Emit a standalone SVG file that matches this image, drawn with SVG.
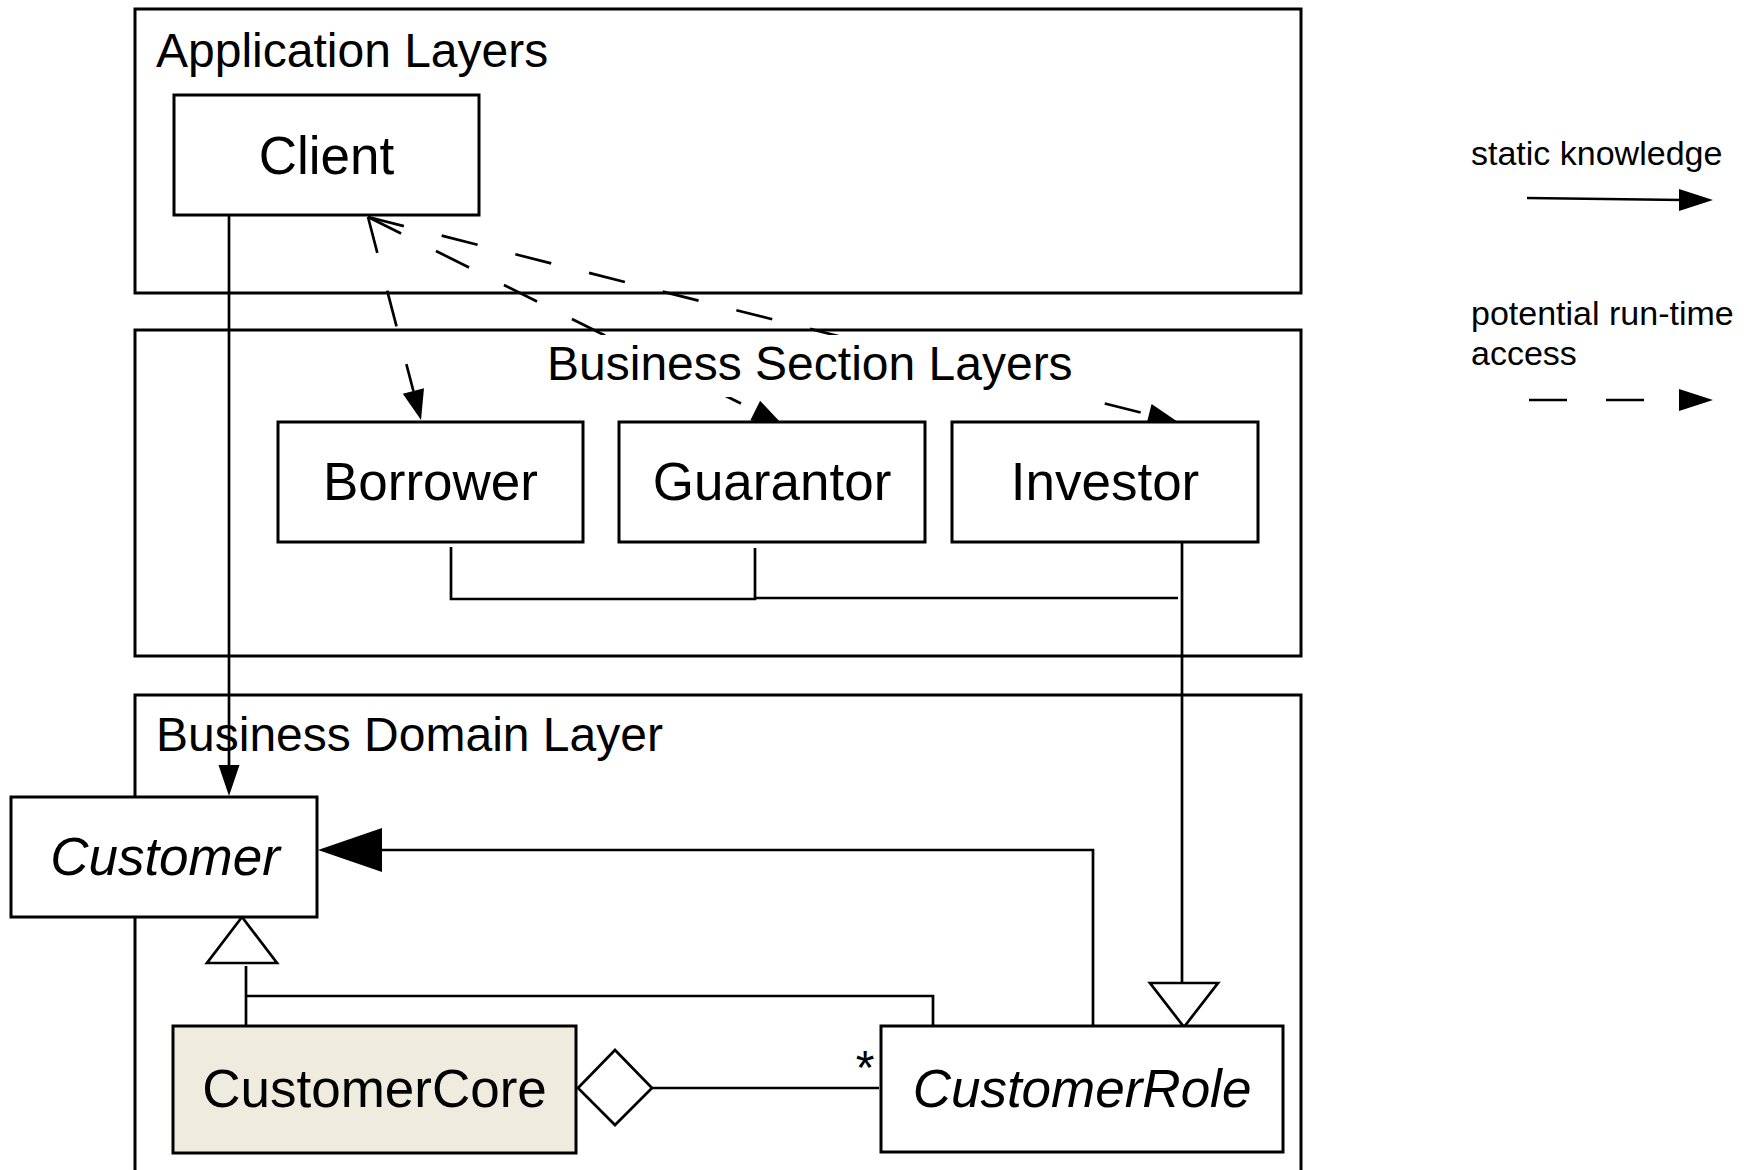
<svg xmlns="http://www.w3.org/2000/svg" width="1757" height="1170" viewBox="0 0 1757 1170">
<style>
.cont{fill:none;stroke:#000;stroke-width:3}
.box{fill:#fff;stroke:#000;stroke-width:3}
.core{fill:#efecdf;stroke:#000;stroke-width:3}
.ln{fill:none;stroke:#000;stroke-width:2.7}
.dash{fill:none;stroke:#000;stroke-width:2.7;stroke-dasharray:37 39}
.head{fill:#000;stroke:none}
.hollow{fill:#fff;stroke:#000;stroke-width:2.7}
.title{font-family:"Liberation Sans",Arial,sans-serif;font-size:48px;fill:#000}
.lbl{font-family:"Liberation Sans",Arial,sans-serif;font-size:53px;fill:#000;text-anchor:middle}
.it{font-style:italic}
.leg{font-family:"Liberation Sans",Arial,sans-serif;font-size:34px;fill:#000}
</style>
<rect width="1757" height="1170" fill="#fff"/>
<g id="containers">
<g id="application-layers">
<rect class="cont" x="135" y="9" width="1166" height="284"/>
<text class="title" x="156" y="67">Application Layers</text>
</g>
<rect id="business-section-layers" class="cont" x="135" y="330" width="1166" height="326"/>
<g id="business-domain-layer">
<rect class="cont" x="135" y="695" width="1166" height="520"/>
<text class="title" x="156" y="751">Business Domain Layer</text>
</g>
</g>
<g id="connectors">
<path class="ln" d="M229,215 V766"/>
<polygon class="head" points="229,796 218.5,765 239.5,765"/>
<path class="dash" d="M368,217 L413.4,391"/>
<polygon class="head" points="421,420 424,388.2 402.8,393.8"/>
<path class="dash" d="M368,217 L755.2,410.6"/>
<polygon class="head" points="782,424 760.1,400.8 750.3,420.4"/>
<path class="dash" d="M368,217 L1148.9,414.6"/>
<polygon class="head" points="1178,422 1151.6,403.9 1146.2,425.3"/>
<path class="ln" d="M451,547 V599 H755 V548"/>
<path class="ln" d="M755,598 H1178"/>
<path class="ln" d="M1182,542 V985"/>
<polygon class="hollow" points="1150,983 1218,983 1184,1027"/>
<path class="ln" d="M1093,1026 V850 H380"/>
<polygon class="head" points="318,850 382,828 382,872"/>
<polygon class="hollow" points="242,917 207,963 277,963"/>
<path class="ln" d="M246,966 V1031"/>
<path class="ln" d="M246,996 H933 V1026"/>
<polygon class="hollow" points="578,1088 615,1050 652,1088 615,1125"/>
<path class="ln" d="M652,1088 H879"/>
<text x="865" y="1084" style="font-family:'Liberation Sans',Arial,sans-serif;font-size:48px;text-anchor:middle">*</text>
</g>
<g id="section-title">
<rect x="545" y="335" width="528" height="62" fill="#fff"/>
<text class="title" x="547" y="380">Business Section Layers</text>
</g>
<g id="client">
<rect class="box" x="174" y="95" width="305" height="120"/>
<text class="lbl" x="326.5" y="173.5">Client</text>
</g>
<g id="borrower">
<rect class="box" x="278" y="422" width="305" height="120"/>
<text class="lbl" x="430.5" y="500">Borrower</text>
</g>
<g id="guarantor">
<rect class="box" x="619" y="422" width="306" height="120"/>
<text class="lbl" x="772" y="500">Guarantor</text>
</g>
<g id="investor">
<rect class="box" x="952" y="422" width="306" height="120"/>
<text class="lbl" x="1105" y="500">Investor</text>
</g>
<g id="customer">
<rect class="box" x="11" y="797" width="306" height="120"/>
<text class="lbl it" x="165" y="875">Customer</text>
</g>
<g id="customer-core">
<rect class="core" x="173" y="1026" width="403" height="127"/>
<text class="lbl" x="374.5" y="1107">CustomerCore</text>
</g>
<g id="customer-role">
<rect class="box" x="881" y="1026" width="402" height="126"/>
<text class="lbl it" x="1082" y="1107">CustomerRole</text>
</g>
<g id="legend">
<text class="leg" x="1471" y="165">static knowledge</text>
<path class="ln" d="M1527,198 L1682,200"/>
<polygon class="head" points="1713,200 1679,189 1679,211"/>
<text class="leg" x="1471" y="325">potential run-time</text>
<text class="leg" x="1471" y="365">access</text>
<path class="ln" d="M1529,400 H1567 M1606,400 H1644"/>
<polygon class="head" points="1713,400 1679,389 1679,411"/>
</g>
</svg>
